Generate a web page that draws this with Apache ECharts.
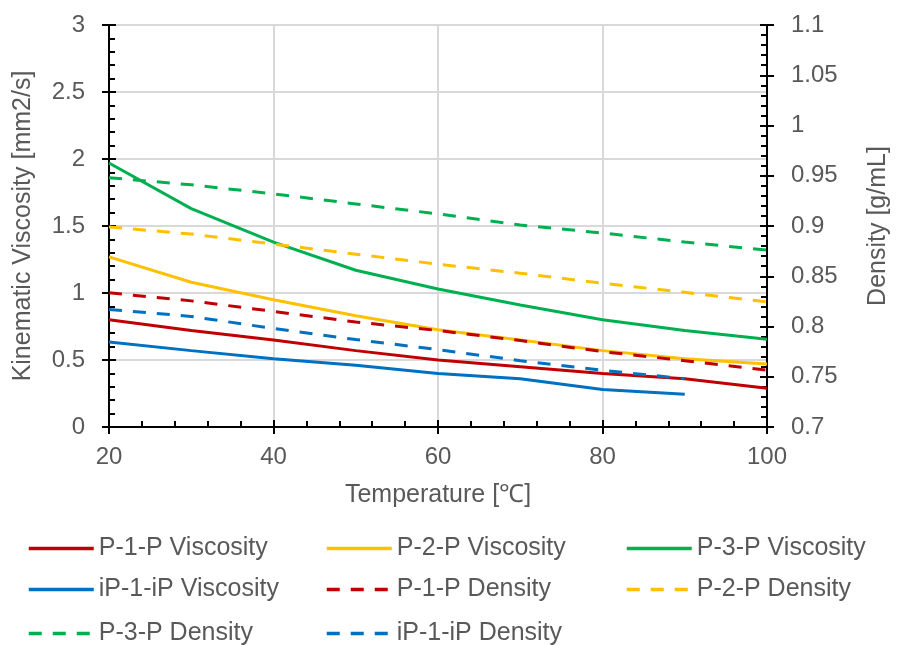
<!DOCTYPE html>
<html>
<head>
<meta charset="utf-8">
<script src="https://cdn.jsdelivr.net/npm/echarts@6/dist/echarts.min.js"></script>
<style>
html,body{margin:0;padding:0;background:#fff;}
#chart{width:899px;height:645px;}
</style>
</head>
<body>
<div id="chart"></div>
<script>
// Temperatures (°C)
var temps = [20, 30, 40, 50, 60, 70, 80, 90, 100];
var tempsIP = [20, 30, 40, 50, 60, 70, 80, 90];

// Kinematic viscosity [mm2/s]
var p1pVisc = [0.80, 0.72, 0.65, 0.57, 0.50, 0.45, 0.40, 0.36, 0.29];
var p2pVisc = [1.27, 1.08, 0.95, 0.83, 0.725, 0.65, 0.57, 0.51, 0.47];
var p3pVisc = [1.97, 1.63, 1.38, 1.17, 1.03, 0.91, 0.80, 0.72, 0.655];
var ip1ipVisc = [0.635, 0.57, 0.51, 0.46, 0.40, 0.36, 0.28, 0.245];

// Density [g/mL]
var p1pDens = [0.8335, 0.8255, 0.815, 0.8045, 0.796, 0.786, 0.775, 0.766, 0.7565];
var p2pDens = [0.899, 0.892, 0.882, 0.872, 0.862, 0.853, 0.843, 0.834, 0.8245];
var p3pDens = [0.948, 0.941, 0.932, 0.922, 0.912, 0.901, 0.893, 0.884, 0.876];
var ip1ipDens = [0.817, 0.81, 0.798, 0.787, 0.777, 0.766, 0.7565, 0.748];

var names = ['P-1-P Viscosity', 'P-2-P Viscosity', 'P-3-P Viscosity', 'iP-1-iP Viscosity',
             'P-1-P Density', 'P-2-P Density', 'P-3-P Density', 'iP-1-iP Density'];
var colors = ['#C00000', '#FFC000', '#00B050', '#0070C0'];

function pairs(xs, ys) { return xs.map(function (x, i) { return [x, ys[i]]; }); }

var FONT = '"Liberation Sans", Arial, sans-serif';
var TXT = '#595959';
var FS = 24;

function mk(name, xs, ys, color, dashed, yIdx) {
  return {
    name: name, type: 'line', yAxisIndex: yIdx, data: pairs(xs, ys),
    symbol: 'none', showSymbol: false, smooth: false, animation: false,
    lineStyle: { color: color, width: 3, type: dashed ? [13, 11] : 'solid', cap: 'butt' },
    itemStyle: { color: color }
  };
}

var series = [
  mk(names[0], temps, p1pVisc, colors[0], false, 0),
  mk(names[1], temps, p2pVisc, colors[1], false, 0),
  mk(names[2], temps, p3pVisc, colors[2], false, 0),
  mk(names[3], tempsIP, ip1ipVisc, colors[3], false, 0),
  mk(names[4], temps, p1pDens, colors[0], true, 1),
  mk(names[5], temps, p2pDens, colors[1], true, 1),
  mk(names[6], temps, p3pDens, colors[2], true, 1),
  mk(names[7], tempsIP, ip1ipDens, colors[3], true, 1)
];

// legend item positions (3 columns x 3 rows)
var legLeft = [27, 325, 625, 27, 325, 625, 27, 325];
var legTop = [536, 536, 536, 577, 577, 577, 621, 621];
var legends = names.map(function (n, i) {
  return {
    data: [n], left: legLeft[i], top: legTop[i],
    itemWidth: 65, itemHeight: 14, itemGap: 0, padding: 0,
    itemStyle: { opacity: 0 },
    lineStyle: { width: 3.5 },
    textStyle: { fontFamily: FONT, fontSize: 25, color: TXT, padding: [0, 0, 0, 0] },
    selectedMode: false
  };
});

var axisLineStyle = { show: true, lineStyle: { color: '#000', width: 2 } };
var gridLine = { show: true, lineStyle: { color: '#d9d9d9', width: 2 } };

var option = {
  backgroundColor: '#fff',
  animation: false,
  grid: { left: 109, right: 130, top: 25, bottom: 218, containLabel: false },
  legend: legends,
  xAxis: [{
    type: 'value', min: 20, max: 100, interval: 20,
    name: 'Temperature [\u2103]', nameLocation: 'middle', nameGap: 56,
    nameTextStyle: { fontFamily: FONT, fontSize: 25, color: TXT },
    axisLine: { show: true, onZero: false, lineStyle: { color: '#000', width: 2 } },
    axisTick: { show: true, inside: true, length: 7, lineStyle: { color: '#000', width: 2 } },
    minorTick: { show: true, splitNumber: 5, length: 6, lineStyle: { color: '#000', width: 2 } },
    axisLabel: { fontFamily: FONT, fontSize: FS, color: TXT, margin: 18 },
    splitLine: gridLine
  }, {
    type: 'value', min: 20, max: 100, interval: 20, position: 'bottom',
    axisLine: { show: false, onZero: false },
    axisTick: { show: true, inside: false, length: 7, lineStyle: { color: '#000', width: 2 } },
    axisLabel: { show: false }, splitLine: { show: false }
  }],
  yAxis: [{
    type: 'value', min: 0, max: 3, interval: 0.5, position: 'left',
    name: 'Kinematic Viscosity [mm2/s]', nameLocation: 'middle', nameGap: 73,
    nameTextStyle: { fontFamily: FONT, fontSize: 25, color: TXT },
    axisLine: axisLineStyle,
    axisTick: { show: true, inside: true, length: 7, lineStyle: { color: '#000', width: 2 } },
    minorTick: { show: true, splitNumber: 5, length: 6, lineStyle: { color: '#000', width: 2 } },
    axisLabel: { fontFamily: FONT, fontSize: FS, color: TXT, margin: 24 },
    splitLine: gridLine
  }, {
    type: 'value', min: 0.7, max: 1.1, interval: 0.05, position: 'right',
    name: 'Density [g/mL]', nameLocation: 'middle', nameGap: 99,
    nameTextStyle: { fontFamily: FONT, fontSize: 25, color: TXT },
    axisLine: axisLineStyle,
    axisTick: { show: true, inside: true, length: 7, lineStyle: { color: '#000', width: 2 } },
    minorTick: { show: true, splitNumber: 5, length: 6, lineStyle: { color: '#000', width: 2 } },
    axisLabel: {
      fontFamily: FONT, fontSize: FS, color: TXT, margin: 24,
      formatter: function (v) { return String(parseFloat(v.toFixed(2))); }
    },
    splitLine: { show: false }
  }, {
    type: 'value', min: 0, max: 3, interval: 0.5, position: 'left',
    axisLine: { show: false },
    axisTick: { show: true, inside: false, length: 7, lineStyle: { color: '#000', width: 2 } },
    axisLabel: { show: false }, splitLine: { show: false }
  }, {
    type: 'value', min: 0.7, max: 1.1, interval: 0.05, position: 'right',
    axisLine: { show: false },
    axisTick: { show: true, inside: false, length: 7, lineStyle: { color: '#000', width: 2 } },
    axisLabel: { show: false }, splitLine: { show: false }
  }],
  series: series
};

var chart = echarts.init(document.getElementById('chart'), null, { renderer: 'canvas' });
chart.setOption(option);
</script>
</body>
</html>
